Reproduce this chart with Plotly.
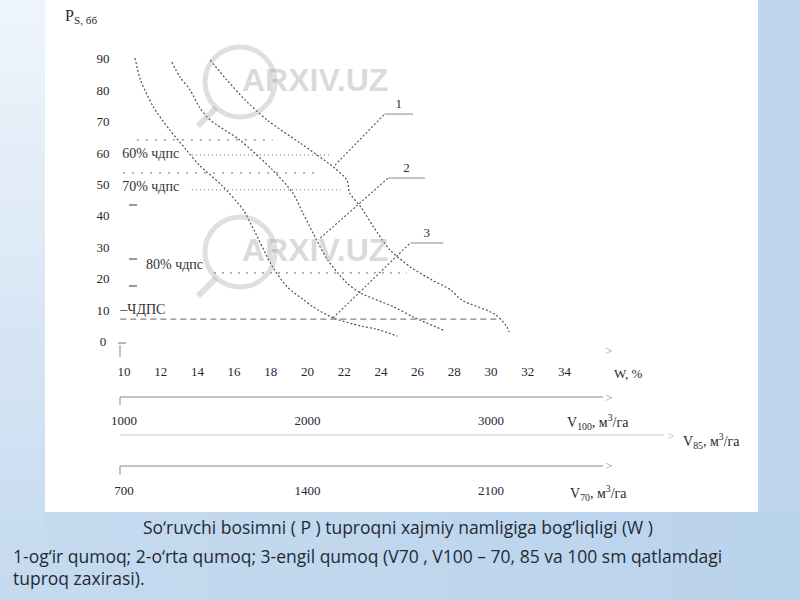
import plotly.graph_objects as go

# ---------------- data ----------------
w_ticks = [10, 12, 14, 16, 18, 20, 22, 24, 26, 28, 30, 32, 34]
p_ticks = [0, 10, 20, 30, 40, 50, 60, 70, 80, 90]
v100_ticks = [1000, 2000, 3000]
v70_ticks = [700, 1400, 2100]

# curve 1 - og'ir qumoq (right)
c1_w = [14.7, 15.6, 16.6, 17.8, 19.6, 21.4, 22.15, 22.3, 22.9, 23.6, 24.5, 25.6, 26.8, 27.8, 28.4, 30.2, 30.8, 31.0]
c1_p = [90.0, 83.7, 77.3, 70.9, 63.6, 56.0, 51.8, 47.7, 43.3, 36.9, 29.6, 24.2, 20.0, 16.9, 13.7, 9.2, 5.7, 3.5]
# curve 2 - o'rta qumoq (middle)
c2_w = [12.6, 13.05, 13.6, 14.1, 14.7, 16.3, 18.1, 19.2, 19.75, 20.3, 21.1, 22.15, 22.9, 24.7, 25.75, 27.4]
c2_p = [89.4, 84.6, 80.5, 75.1, 70.9, 64.6, 55.0, 47.7, 41.3, 35.0, 26.4, 19.1, 15.9, 11.5, 8.3, 4.1]
# curve 3 - engil qumoq (left)
c3_w = [10.6, 10.9, 11.6, 12.5, 13.4, 14.1, 15.3, 16.5, 17.0, 18.1, 18.9, 19.8, 20.3, 21.4, 22.9, 23.7, 24.9]
c3_p = [90.6, 83.7, 75.1, 67.7, 61.4, 56.6, 50.3, 42.3, 36.9, 24.2, 17.8, 13.7, 11.5, 8.0, 5.4, 4.5, 2.2]

# horizontal moisture reference levels (P) and their W extents
ref_p = [64.6, 59.8, 54.1, 48.7, 22.3]
ref_w0 = [10.7, 13.7, 9.95, 13.7, 14.9]
ref_w1 = [18.1, 21.2, 20.5, 21.8, 25.4]
chdps_p = 7.6
chdps_w = [9.8, 30.55]
level_texts = ["60% чдпс", "70% чдпс", "80% чдпс", "–ЧДПС"]
level_text_p = [59.8, 49.6, 24.8, 10.2]
level_text_w = [9.9, 9.9, 11.2, 9.8]

# leader lines: (curve point) -> (label stub)
lead_w0 = [21.5, 20.7, 21.4]
lead_p0 = [56.6, 33.4, 8.0]
lead_w1 = [24.2, 24.4, 25.6]
lead_p1 = [72.8, 52.5, 31.8]
stub_w1 = [25.75, 26.4, 27.4]
lab_names = ["1", "2", "3"]

# ---------------- geometry helpers ----------------
W, H = 800, 600
PX_PER_W = 18.35
PX_PER_P = 3.144
X0_PX, Y0_PX = 124, 343   # pixel of W=10 and of P=0

def w_of(px):
    return 10 + (px - X0_PX) / PX_PER_W

def p_of(py):
    return (Y0_PX - py) / PX_PER_P

def fx(px):
    return px / W

def fy(py):
    return 1 - py / H

w_range = [w_of(0), w_of(W)]
p_range = [p_of(H), p_of(0)]

fig = go.Figure()

serif = "Liberation Serif"
tick_font = dict(family=serif, size=13, color="#262636")
curve_style = dict(color="#505050", width=1.2, dash="2px,2px")

for cw, cp in [(c1_w, c1_p), (c2_w, c2_p), (c3_w, c3_p)]:
    fig.add_trace(go.Scatter(x=cw, y=cp, mode="lines", line=dict(shape="spline", smoothing=0.8, **curve_style),
                             hoverinfo="skip", showlegend=False))

# reference levels
dashes = ["2px,7px", "1px,3px", "2px,7px", "1px,3px", "2px,6px"]
for p, a, b, d in zip(ref_p, ref_w0, ref_w1, dashes):
    fig.add_trace(go.Scatter(x=[a, b], y=[p, p], mode="lines", line=dict(color="#666", width=1, dash=d),
                             hoverinfo="skip", showlegend=False))
fig.add_trace(go.Scatter(x=chdps_w, y=[chdps_p, chdps_p], mode="lines",
                         line=dict(color="#666", width=1, dash="6px,4px"), hoverinfo="skip", showlegend=False))

# leader lines
for i in range(3):
    fig.add_trace(go.Scatter(x=[lead_w0[i], lead_w1[i]], y=[lead_p0[i], lead_p1[i]], mode="lines",
                             line=dict(color="#555", width=1.1, dash="2px,2px"), hoverinfo="skip", showlegend=False))
    fig.add_trace(go.Scatter(x=[lead_w1[i], stub_w1[i]], y=[lead_p1[i], lead_p1[i]], mode="lines",
                             line=dict(color="#b0b0b0", width=1.5), hoverinfo="skip", showlegend=False))
    fig.add_trace(go.Scatter(x=[(lead_w1[i] + stub_w1[i]) / 2], y=[lead_p1[i] + 3.0], mode="text",
                             text=[lab_names[i]], textfont=dict(family=serif, size=13, color="#333"),
                             hoverinfo="skip", showlegend=False))

# y tick labels
fig.add_trace(go.Scatter(x=[w_of(103)] * len(p_ticks), y=p_ticks, mode="text", text=[str(v) for v in p_ticks],
                         textfont=tick_font, hoverinfo="skip", showlegend=False))
# W tick labels
fig.add_trace(go.Scatter(x=w_ticks, y=[p_of(373)] * len(w_ticks), mode="text", text=[str(v) for v in w_ticks],
                         textfont=tick_font, hoverinfo="skip", showlegend=False))
# V100 tick labels (own axis x2)
fig.add_trace(go.Scatter(x=v100_ticks, y=[p_of(422)] * len(v100_ticks), mode="text",
                         text=[str(v) for v in v100_ticks], xaxis="x2",
                         textfont=tick_font, hoverinfo="skip", showlegend=False))
# V70 tick labels (own axis x3)
fig.add_trace(go.Scatter(x=v70_ticks, y=[p_of(492)] * len(v70_ticks), mode="text",
                         text=[str(v) for v in v70_ticks], xaxis="x3",
                         textfont=tick_font, hoverinfo="skip", showlegend=False))

# level texts
for t, p, w in zip(level_texts, level_text_p, level_text_w):
    fig.add_trace(go.Scatter(x=[w], y=[p], mode="text", text=[t], textposition="middle right",
                             textfont=dict(family=serif, size=14, color="#333"), hoverinfo="skip", showlegend=False))

# ---------------- shapes (background, axes) ----------------
shapes = []

def mix(c1, c2, t):
    return "rgb(%d,%d,%d)" % tuple(round(a + (b - a) * t) for a, b in zip(c1, c2))

top_c, bot_c = (238, 244, 251), (196, 218, 239)
n = 24
for i in range(n):
    y0 = i * H / n
    y1 = (i + 1) * H / n + 1
    shapes.append(dict(type="rect", xref="paper", yref="paper", x0=0, x1=fx(46), y0=fy(y1), y1=fy(y0),
                       fillcolor=mix(top_c, bot_c, i / (n - 1)), line=dict(width=0), layer="below"))
lc, rc = (196, 218, 239), (186, 211, 236)
for i in range(n):
    x0 = 46 + i * (W - 46) / n
    x1 = 46 + (i + 1) * (W - 46) / n + 1
    shapes.append(dict(type="rect", xref="paper", yref="paper", x0=fx(x0), x1=fx(x1), y0=0, y1=fy(512),
                       fillcolor=mix(lc, rc, i / (n - 1)), line=dict(width=0), layer="below"))
shapes.append(dict(type="rect", xref="paper", yref="paper", x0=fx(45), x1=fx(758), y0=fy(512), y1=1,
                   fillcolor="white", line=dict(width=0), layer="below"))

def seg(x0, y0, x1, y1, color="#888", width=1.2):
    shapes.append(dict(type="line", xref="paper", yref="paper", x0=fx(x0), y0=fy(y0), x1=fx(x1), y1=fy(y1),
                       line=dict(color=color, width=width)))

seg(118, 343, 126, 343, "#777", 1)
seg(129, 205, 137, 205, "#555", 1.2)
seg(129, 259, 137, 259, "#555", 1.2)
seg(129, 286, 137, 286, "#555", 1.2)
seg(120, 345, 120, 357, "#888", 1)
seg(120, 397, 603, 397, "#8a8a8a", 1.2)
seg(120, 397, 120, 405, "#8a8a8a", 1)
seg(120, 435, 664, 435, "#c8c8c8", 1.2)
seg(120, 466, 603, 466, "#8a8a8a", 1.2)
seg(120, 466, 120, 475, "#8a8a8a", 1)

# watermarks
for cy in [82, 252]:
    shapes.append(dict(type="circle", xref="paper", yref="paper", x0=fx(205), x1=fx(275), y0=fy(cy + 35),
                       y1=fy(cy - 35), line=dict(color="rgba(150,150,150,0.30)", width=5)))
    seg(216, cy + 26, 198, cy + 44, "rgba(150,150,150,0.30)", 6)

# ---------------- annotations ----------------
ann = []

def text(px, py, t, size=12, color="#2a2a2a", anchor="center", family=serif):
    ann.append(dict(xref="paper", yref="paper", x=fx(px), y=fy(py), text=t, showarrow=False,
                    xanchor=anchor, yanchor="middle", font=dict(family=family, size=size, color=color)))

for cy in [80, 250]:
    text(315, cy, "<b>ARXIV.UZ</b>", 32, "rgba(150,150,150,0.35)", family="Liberation Sans")

text(63, 17, "P<sub>S, бб</sub>", 16, "#2a2a2a", "left")
text(608, 350, "&gt;", 13, "#9a9a9a")
text(608, 397, "&gt;", 13, "#9a9a9a")
text(670, 435, "&gt;", 13, "#b5b5b5")
text(608, 466, "&gt;", 13, "#9a9a9a")
text(628, 373, "W, %", 13)
text(598, 422, "V<sub>100</sub>, м<sup>3</sup>/га", 14)
text(711, 441, "V<sub>85</sub>, м<sup>3</sup>/га", 14)
text(598, 493, "V<sub>70</sub>, м<sup>3</sup>/га", 14)

cap = "Open Sans"
text(398, 527, "So‘ruvchi bosimni ( P ) tuproqni xajmiy namligiga bog‘liqligi (W )", 17.5, "#1f2a36", "center", cap)
text(11, 556, "1-og‘ir qumoq; 2-o‘rta qumoq; 3-engil qumoq (V70 , V100 – 70, 85 va 100 sm qatlamdagi", 17.5,
     "#1f2a36", "left", cap)
text(11, 578, "tuproq zaxirasi).", 17.5, "#1f2a36", "left", cap)

fig.update_layout(
    width=W, height=H, autosize=False,
    margin=dict(l=0, r=0, t=0, b=0),
    paper_bgcolor="rgb(188,213,236)", plot_bgcolor="rgba(0,0,0,0)",
    xaxis=dict(range=w_range, visible=False, fixedrange=True),
    xaxis2=dict(range=[100 * w_range[0], 100 * w_range[1]], overlaying="x", visible=False, fixedrange=True),
    xaxis3=dict(range=[70 * w_range[0], 70 * w_range[1]], overlaying="x", visible=False, fixedrange=True),
    yaxis=dict(range=p_range, visible=False, fixedrange=True),
    shapes=shapes, annotations=ann, showlegend=False,
)

fig.write_html("out.html", config={"displayModeBar": False},
               post_script="document.body.style.margin='0';")
